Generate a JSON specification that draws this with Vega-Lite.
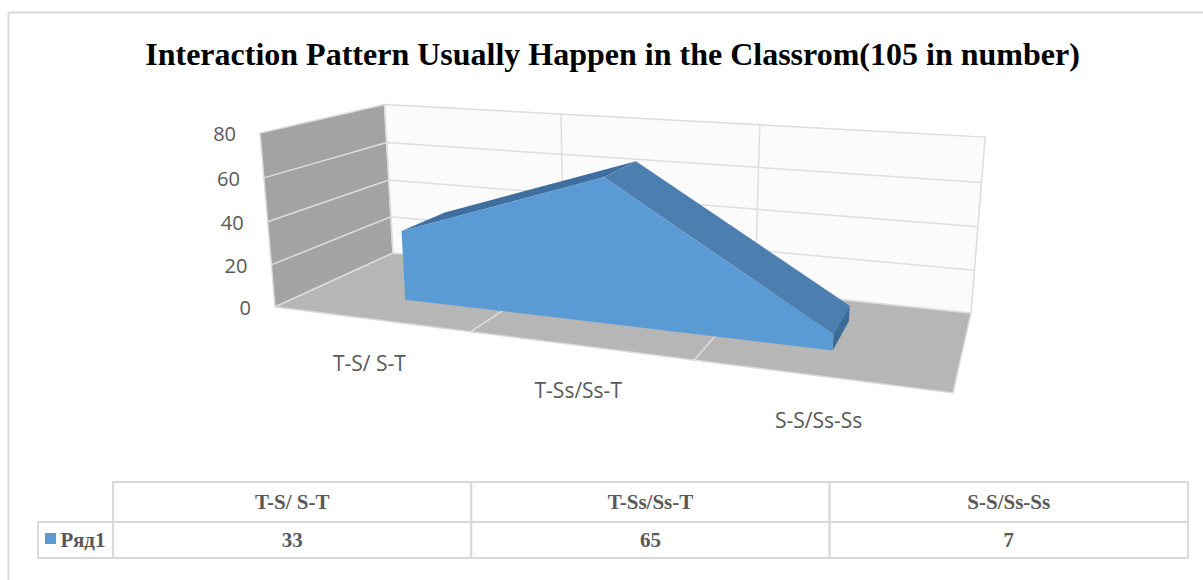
{
"$schema":"https://vega.github.io/schema/vega-lite/v6.json",
"width":1195,"height":568,
"autosize":{"type":"none"},
"padding":{"left":8,"top":12,"right":0,"bottom":0},
"background":"white",
"config":{"view":{"stroke":null}},
"title":{"text":"Interaction Pattern Usually Happen in the Classrom(105 in number)","font":"Liberation Serif","fontSize":32,"fontWeight":"bold","color":"#000000","anchor":"start","offset":-92,"dx":140,"baseline":"bottom"},
"datasets":{
"mesh":[
{"k":"wall","g":"left","s":1,"pos":0,"value":0,"depth":0},
{"k":"wall","g":"left","s":2,"pos":0,"value":80,"depth":0},
{"k":"wall","g":"left","s":3,"pos":0,"value":80,"depth":1},
{"k":"wall","g":"left","s":4,"pos":0,"value":0,"depth":1},
{"k":"wall","g":"left","s":5,"pos":0,"value":0,"depth":0},
{"k":"wall","g":"floor","s":1,"pos":0,"value":0,"depth":0},
{"k":"wall","g":"floor","s":2,"pos":3,"value":0,"depth":0},
{"k":"wall","g":"floor","s":3,"pos":3,"value":0,"depth":1},
{"k":"wall","g":"floor","s":4,"pos":0,"value":0,"depth":1},
{"k":"wall","g":"floor","s":5,"pos":0,"value":0,"depth":0},
{"k":"wall","g":"back","s":1,"pos":0,"value":0,"depth":1},
{"k":"wall","g":"back","s":2,"pos":3,"value":0,"depth":1},
{"k":"wall","g":"back","s":3,"pos":3,"value":80,"depth":1},
{"k":"wall","g":"back","s":4,"pos":0,"value":80,"depth":1},
{"k":"wall","g":"back","s":5,"pos":0,"value":0,"depth":1},
{"k":"grid","g":"v20","s":1,"pos":0,"value":20,"depth":0},
{"k":"grid","g":"v20","s":2,"pos":0,"value":20,"depth":1},
{"k":"grid","g":"v20","s":3,"pos":3,"value":20,"depth":1},
{"k":"grid","g":"v40","s":1,"pos":0,"value":40,"depth":0},
{"k":"grid","g":"v40","s":2,"pos":0,"value":40,"depth":1},
{"k":"grid","g":"v40","s":3,"pos":3,"value":40,"depth":1},
{"k":"grid","g":"v60","s":1,"pos":0,"value":60,"depth":0},
{"k":"grid","g":"v60","s":2,"pos":0,"value":60,"depth":1},
{"k":"grid","g":"v60","s":3,"pos":3,"value":60,"depth":1},
{"k":"grid","g":"c1","s":1,"pos":1,"value":0,"depth":0},
{"k":"grid","g":"c1","s":2,"pos":1,"value":0,"depth":1},
{"k":"grid","g":"c1","s":3,"pos":1,"value":80,"depth":1},
{"k":"grid","g":"c2","s":1,"pos":2,"value":0,"depth":0},
{"k":"grid","g":"c2","s":2,"pos":2,"value":0,"depth":1},
{"k":"grid","g":"c2","s":3,"pos":2,"value":80,"depth":1},
{"k":"area","g":"top1","s":1,"pos":0.5,"value":33,"depth":0.3},
{"k":"area","g":"top1","s":2,"pos":1.5,"value":65,"depth":0.3},
{"k":"area","g":"top1","s":3,"pos":1.5,"value":65,"depth":0.7},
{"k":"area","g":"top1","s":4,"pos":0.5,"value":33,"depth":0.7},
{"k":"area","g":"top2","s":1,"pos":1.5,"value":65,"depth":0.3},
{"k":"area","g":"top2","s":2,"pos":2.5,"value":7,"depth":0.3},
{"k":"area","g":"top2","s":3,"pos":2.5,"value":7,"depth":0.7},
{"k":"area","g":"top2","s":4,"pos":1.5,"value":65,"depth":0.7},
{"k":"area","g":"end","s":1,"pos":2.5,"value":7,"depth":0.3},
{"k":"area","g":"end","s":2,"pos":2.5,"value":0,"depth":0.3},
{"k":"area","g":"end","s":3,"pos":2.5,"value":0,"depth":0.7},
{"k":"area","g":"end","s":4,"pos":2.5,"value":7,"depth":0.7},
{"k":"area","g":"front","s":1,"pos":0.5,"value":0,"depth":0.3},
{"k":"area","g":"front","s":2,"pos":0.5,"value":33,"depth":0.3},
{"k":"area","g":"front","s":3,"pos":1.5,"value":65,"depth":0.3},
{"k":"area","g":"front","s":4,"pos":2.5,"value":7,"depth":0.3},
{"k":"area","g":"front","s":5,"pos":2.5,"value":0,"depth":0.3},
{"k":"tick","g":"0","s":1,"pos":0,"value":0,"depth":0},
{"k":"tick","g":"20","s":1,"pos":0,"value":20,"depth":0},
{"k":"tick","g":"40","s":1,"pos":0,"value":40,"depth":0},
{"k":"tick","g":"60","s":1,"pos":0,"value":60,"depth":0},
{"k":"tick","g":"80","s":1,"pos":0,"value":80,"depth":0},
{"k":"cat","g":"T-S/ S-T","s":1,"pos":0.5,"value":0,"depth":0},
{"k":"cat","g":"T-Ss/Ss-T","s":1,"pos":1.5,"value":0,"depth":0},
{"k":"cat","g":"S-S/Ss-Ss","s":1,"pos":2.5,"value":0,"depth":0}
],
"table":[
{"col":0,"row":0,"text":"T-S/ S-T"},
{"col":1,"row":0,"text":"T-Ss/Ss-T"},
{"col":2,"row":0,"text":"S-S/Ss-Ss"},
{"col":-1,"row":1,"text":"Ряд1"},
{"col":0,"row":1,"text":"33"},
{"col":1,"row":1,"text":"65"},
{"col":2,"row":1,"text":"7"}
]
},
"layer":[
{"data":{"name":"table"},"mark":{"type":"point","opacity":0},"encoding":{
"x":{"datum":8,"type":"quantitative","scale":{"domain":[8,1203],"nice":false,"zero":false},"axis":{"orient":"top","title":null,"labels":false,"ticks":false,"grid":false,"domainColor":"#d9d9d9","domainWidth":2}},
"y":{"datum":580,"type":"quantitative","scale":{"domain":[580,12],"nice":false,"zero":false},"axis":{"orient":"left","title":null,"labels":false,"ticks":false,"grid":false,"domainColor":"#d9d9d9","domainWidth":2}}
}},
{"data":{"name":"mesh"},
"transform":[
{"calculate":"1-0.19079*datum.pos/3-0.04*datum.value/80+0.17895*datum.depth","as":"den"},
{"calculate":"(275+496.18*datum.pos/3-25.4*datum.value/80+188.33*datum.depth)/datum.den","as":"px"},
{"calculate":"(307+11.02*datum.pos/3-179.3*datum.value/80-8.73*datum.depth)/datum.den","as":"py"}
],
"layer":[
{"transform":[{"filter":"datum.k==='wall'"}],
"mark":{"type":"line","stroke":"#dcdcdc","strokeWidth":1.5,"interpolate":"linear"},
"encoding":{"x":{"field":"px","type":"quantitative"},"y":{"field":"py","type":"quantitative"},"order":{"field":"s"},"detail":{"field":"g"},
"fill":{"field":"g","type":"nominal","legend":null,"scale":{"domain":["left","floor","back","top1","top2","end","front"],"range":["#a3a3a3","#b6b6b6","#fbfbfb","#3f6f9e","#4c7eb0","#3c6b97","#5b9bd5"]}}}},
{"transform":[{"filter":"datum.k==='grid'"}],
"mark":{"type":"line","stroke":"#dedede","strokeWidth":1.5},
"encoding":{"x":{"field":"px","type":"quantitative"},"y":{"field":"py","type":"quantitative"},"order":{"field":"s"},"detail":{"field":"g"}}},
{"transform":[{"filter":"datum.k==='area'"}],
"mark":{"type":"line","strokeWidth":0},
"encoding":{"x":{"field":"px","type":"quantitative"},"y":{"field":"py","type":"quantitative"},"order":{"field":"s"},"detail":{"field":"g"},
"fill":{"field":"g","type":"nominal","legend":null,"scale":{"domain":["left","floor","back","top1","top2","end","front"],"range":["#a3a3a3","#b6b6b6","#fbfbfb","#3f6f9e","#4c7eb0","#3c6b97","#5b9bd5"]}}}},
{"transform":[{"filter":"datum.k==='tick'"}],
"mark":{"type":"text","font":"Open Sans","fontSize":20,"color":"#595959","align":"right","baseline":"middle","dx":-24,"dy":2},
"encoding":{"x":{"field":"px","type":"quantitative"},"y":{"field":"py","type":"quantitative"},"text":{"field":"g"}}},
{"transform":[{"filter":"datum.k==='cat'"}],
"mark":{"type":"text","font":"Open Sans","fontSize":21,"color":"#595959","align":"center","baseline":"middle","dy":46.5},
"encoding":{"x":{"field":"px","type":"quantitative"},"y":{"field":"py","type":"quantitative"},"text":{"field":"g"}}}
]},
{"data":{"name":"table"},
"transform":[
{"calculate":"datum.col<0?38:113+358.3*datum.col","as":"x0"},
{"calculate":"datum.col<0?113:113+358.3*(datum.col+1)","as":"x1"},
{"calculate":"datum.row==0?482:522","as":"y0"},
{"calculate":"datum.row==0?522:558","as":"y1"},
{"calculate":"datum.col<0?83:(datum.x0+datum.x1)/2","as":"xc"},
{"calculate":"(datum.y0+datum.y1)/2","as":"yc"}
],
"layer":[
{"mark":{"type":"rect","fill":"white","stroke":"#d9d9d9","strokeWidth":2},
"encoding":{"x":{"field":"x0","type":"quantitative"},"x2":{"field":"x1"},"y":{"field":"y0","type":"quantitative"},"y2":{"field":"y1"}}},
{"mark":{"type":"text","font":"Liberation Serif","fontWeight":"bold","fontSize":21,"color":"#595959","align":"center","baseline":"middle","dy":1},
"encoding":{"x":{"field":"xc","type":"quantitative"},"y":{"field":"yc","type":"quantitative"},"text":{"field":"text"}}},
{"transform":[{"filter":"datum.col<0"}],
"mark":{"type":"point","shape":"square","filled":true,"color":"#5b9bd5","opacity":1,"size":121,"xOffset":-32.5,"yOffset":-1.5},
"encoding":{"x":{"field":"xc","type":"quantitative"},"y":{"field":"yc","type":"quantitative"}}}
]}
]
}
